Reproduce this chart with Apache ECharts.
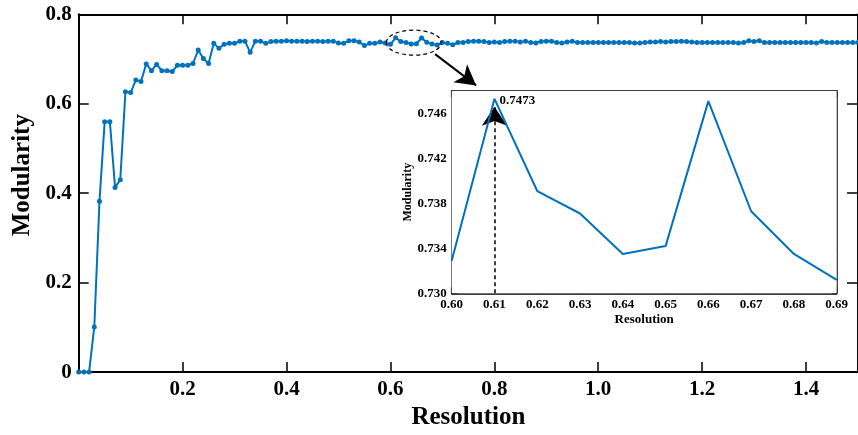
<!DOCTYPE html>
<html>
<head>
<meta charset="utf-8">
<script src="https://cdn.jsdelivr.net/npm/echarts@6/dist/echarts.min.js"></script>
<style>html,body{margin:0;padding:0;background:#fff}#c{width:858px;height:435px}</style>
</head>
<body>
<div id="c"></div>
<script>
// ---- main chart data ----
const resolution = [
0.00,0.01,0.02,0.03,0.04,0.05,0.06,0.07,0.08,0.09,
0.10,0.11,0.12,0.13,0.14,0.15,0.16,0.17,0.18,0.19,
0.20,0.21,0.22,0.23,0.24,0.25,0.26,0.27,0.28,0.29,
0.30,0.31,0.32,0.33,0.34,0.35,0.36,0.37,0.38,0.39,
0.40,0.41,0.42,0.43,0.44,0.45,0.46,0.47,0.48,0.49,
0.50,0.51,0.52,0.53,0.54,0.55,0.56,0.57,0.58,0.59,
0.60,0.61,0.62,0.63,0.64,0.65,0.66,0.67,0.68,0.69,
0.70,0.71,0.72,0.73,0.74,0.75,0.76,0.77,0.78,0.79,
0.80,0.81,0.82,0.83,0.84,0.85,0.86,0.87,0.88,0.89,
0.90,0.91,0.92,0.93,0.94,0.95,0.96,0.97,0.98,0.99,
1.00,1.01,1.02,1.03,1.04,1.05,1.06,1.07,1.08,1.09,
1.10,1.11,1.12,1.13,1.14,1.15,1.16,1.17,1.18,1.19,
1.20,1.21,1.22,1.23,1.24,1.25,1.26,1.27,1.28,1.29,
1.30,1.31,1.32,1.33,1.34,1.35,1.36,1.37,1.38,1.39,
1.40,1.41,1.42,1.43,1.44,1.45,1.46,1.47,1.48,1.49,1.50];
const modularity = [
0,0,0,0.101,0.382,0.560,0.560,0.413,0.430,0.627,
0.625,0.653,0.650,0.689,0.674,0.688,0.674,0.674,0.672,0.686,
0.686,0.686,0.690,0.720,0.701,0.690,0.735,0.724,0.733,0.735,
0.735,0.740,0.740,0.715,0.740,0.740,0.735,0.739,0.740,0.740,
0.741,0.740,0.740,0.740,0.739,0.740,0.740,0.739,0.740,0.740,
0.736,0.735,0.741,0.741,0.738,0.730,0.735,0.735,0.738,0.736,
0.7329,0.7473,0.7391,0.7371,0.7335,0.7342,0.7471,0.7373,0.7335,0.7312,
0.737,0.735,0.732,0.737,0.737,0.739,0.740,0.740,0.739,0.737,
0.738,0.737,0.739,0.740,0.740,0.738,0.740,0.737,0.736,0.739,
0.740,0.740,0.737,0.736,0.738,0.740,0.737,0.737,0.737,0.737,
0.737,0.737,0.737,0.737,0.737,0.737,0.737,0.736,0.736,0.737,
0.738,0.738,0.739,0.738,0.739,0.739,0.740,0.739,0.738,0.737,
0.737,0.737,0.737,0.737,0.737,0.737,0.737,0.736,0.737,0.741,
0.739,0.741,0.737,0.737,0.737,0.737,0.737,0.737,0.737,0.737,
0.737,0.737,0.736,0.739,0.737,0.737,0.737,0.737,0.737,0.737,0.737];
const mainXTicks = [0.2,0.4,0.6,0.8,1.0,1.2,1.4];
const mainYTicks = [0,0.2,0.4,0.6,0.8];

// ---- inset data ----
const insetRes = [0.60,0.61,0.62,0.63,0.64,0.65,0.66,0.67,0.68,0.69];
const insetMod = [0.7329,0.7473,0.7391,0.7371,0.7335,0.7342,0.7471,0.7373,0.7335,0.7312];
const insetYTicks = [0.730,0.734,0.738,0.742,0.746];
const peakRes = 0.61, peakMod = 0.7473;

const BLUE = '#0072BD';
const FONT = 'Liberation Serif';
const chart = echarts.init(document.getElementById('c'), null, {renderer:'canvas'});

const axisLineStyle = {show:true, onZero:false, lineStyle:{color:'#000', width:2}};
const insetLine = {show:true, onZero:false, lineStyle:{color:'#000', width:1.5}};

chart.setOption({
  animation:false,
  backgroundColor:'#fff',
  grid:[
    {left:78.7, top:14.3, right:-9.5, bottom:61.7, containLabel:false},
    {left:451.7, top:91, right:21.3, bottom:141.7, show:true, backgroundColor:'#fff', borderWidth:0, z:3}
  ],
  xAxis:[
    {gridIndex:0, type:'value', position:'bottom', min:0, max:1.5, interval:0.1,
     axisLine:axisLineStyle, splitLine:{show:false},
     axisTick:{show:true, inside:true, length:10, customValues:mainXTicks, lineStyle:{color:'#000', width:1.5}},
     axisLabel:{show:true, customValues:mainXTicks, margin:7, color:'#000', fontFamily:FONT, fontWeight:'bold', fontSize:21,
       formatter:v=>v.toFixed(1)},
     name:'Resolution', nameLocation:'middle', nameGap:26,
     nameTextStyle:{color:'#000', fontFamily:FONT, fontWeight:'bold', fontSize:25, verticalAlign:'top'}},
    {gridIndex:0, type:'value', position:'top', min:0, max:1.5, interval:0.1,
     axisLine:axisLineStyle, splitLine:{show:false},
     axisTick:{show:true, inside:true, length:10, customValues:mainXTicks, lineStyle:{color:'#000', width:1.5}},
     axisLabel:{show:false}},
    {gridIndex:1, type:'value', position:'bottom', min:0.60, max:0.69, interval:0.01,
     axisLine:insetLine, splitLine:{show:false},
     axisTick:{show:true, inside:true, length:6, lineStyle:{color:'#000', width:1.2}},
     axisLabel:{show:true, margin:5, color:'#000', fontFamily:FONT, fontWeight:'bold', fontSize:13,
       showMinLabel:true, showMaxLabel:true, formatter:v=>v.toFixed(2)},
     name:'Resolution', nameLocation:'middle', nameGap:20,
     nameTextStyle:{color:'#000', fontFamily:FONT, fontWeight:'bold', fontSize:13, verticalAlign:'top'}},
    {gridIndex:1, type:'value', position:'top', min:0.60, max:0.69, interval:0.01,
     axisLine:insetLine, splitLine:{show:false},
     axisTick:{show:true, inside:true, length:6, lineStyle:{color:'#000', width:1.2}},
     axisLabel:{show:false}}
  ],
  yAxis:[
    {gridIndex:0, type:'value', position:'left', min:0, max:0.8, interval:0.2,
     axisLine:axisLineStyle, splitLine:{show:false},
     axisTick:{show:true, inside:true, length:10, lineStyle:{color:'#000', width:1.5}},
     axisLabel:{show:true, margin:7, color:'#000', fontFamily:FONT, fontWeight:'bold', fontSize:21},
     name:'Modularity', nameLocation:'middle', nameGap:43, nameRotate:90,
     nameTextStyle:{color:'#000', fontFamily:FONT, fontWeight:'bold', fontSize:25, padding:[0,0,0,36]}},
    {gridIndex:0, type:'value', position:'right', min:0, max:0.8, interval:0.2,
     axisLine:axisLineStyle, splitLine:{show:false},
     axisTick:{show:true, inside:true, length:11, lineStyle:{color:'#000', width:1.5}},
     axisLabel:{show:false}},
    {gridIndex:1, type:'value', position:'left', min:0.730, max:0.748,
     axisLine:insetLine, splitLine:{show:false},
     axisTick:{show:true, inside:true, length:6, customValues:insetYTicks, lineStyle:{color:'#000', width:1.2}},
     axisLabel:{show:true, customValues:insetYTicks, margin:5, color:'#000', fontFamily:FONT, fontWeight:'bold', fontSize:13,
       formatter:v=>v.toFixed(3)},
     name:'Modularity', nameLocation:'middle', nameGap:36, nameRotate:90,
     nameTextStyle:{color:'#000', fontFamily:FONT, fontWeight:'bold', fontSize:12}},
    {gridIndex:1, type:'value', position:'right', min:0.730, max:0.748,
     axisLine:insetLine, splitLine:{show:false},
     axisTick:{show:true, inside:true, length:5, customValues:insetYTicks, lineStyle:{color:'#000', width:1.2}},
     axisLabel:{show:false}}
  ],
  series:[
    {type:'line', xAxisIndex:0, yAxisIndex:0, z:2,
     data:resolution.map((r,i)=>[r, modularity[i]]),
     symbol:'circle', symbolSize:5, showSymbol:true,
     itemStyle:{color:BLUE}, lineStyle:{color:BLUE, width:2},
     markLine:{silent:true, symbol:['none','arrow'], symbolSize:[17,20],
       lineStyle:{color:'#000', width:2, type:'solid'}, label:{show:false},
       data:[[{coord:[0.686,0.711]},{coord:[0.765,0.641]}]]}
    },
    {type:'line', xAxisIndex:2, yAxisIndex:2, z:5,
     data:insetRes.map((r,i)=>[r, insetMod[i]]),
     symbol:'none', itemStyle:{color:BLUE}, lineStyle:{color:BLUE, width:2},
     markLine:{silent:true, symbol:['none','arrow'], symbolSize:[19,19],
       lineStyle:{color:'#000', width:1.5, type:[4,3]}, label:{show:false},
       data:[[{coord:[peakRes,0.730]},{coord:[peakRes,0.7466]}]]},
     markPoint:{silent:true, symbol:'circle', symbolSize:0,
       data:[{coord:[peakRes, peakMod], value:peakMod}],
       label:{show:true, position:'right', distance:5, offset:[0,2], color:'#000', fontFamily:FONT, fontWeight:'bold', fontSize:13,
         formatter:()=>peakMod.toFixed(4)}}
    }
  ]
});

// dashed ellipse around the 0.60-0.69 region of the main curve
const c = chart.convertToPixel({gridIndex:0}, [0.645, 0.7366]);
chart.setOption({
  graphic:[{type:'ellipse', shape:{cx:c[0], cy:c[1], rx:27.5, ry:12.5}, silent:true, z:10,
    style:{fill:'none', stroke:'#000', lineWidth:1.2, lineDash:[4,3]}}]
});
</script>
</body>
</html>
